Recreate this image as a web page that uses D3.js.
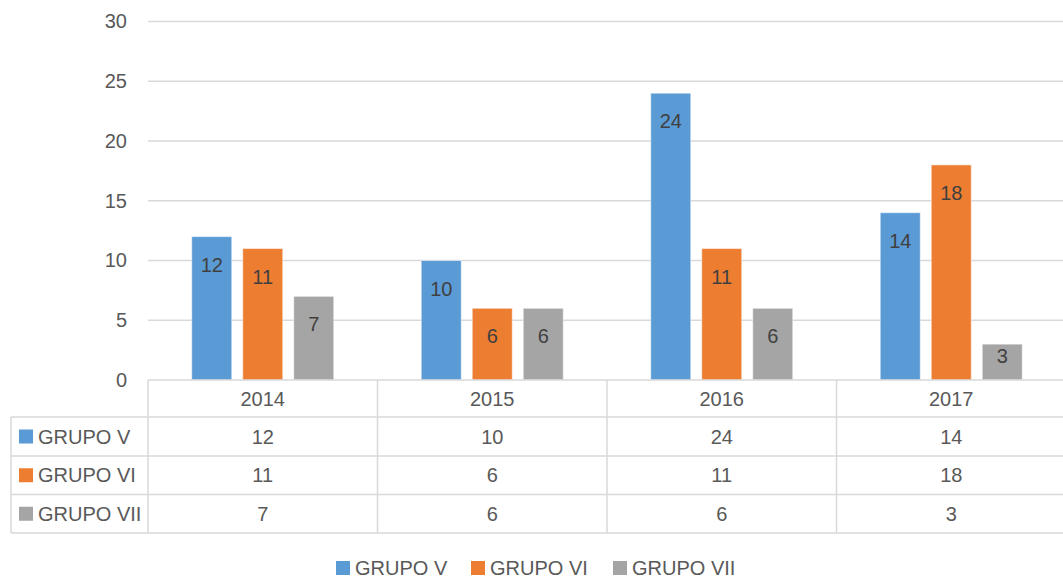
<!DOCTYPE html>
<html>
<head>
<meta charset="utf-8">
<script src="https://cdn.jsdelivr.net/npm/d3@7"></script>
<style>
  body { margin: 0; background: #fff; }
  text { font-family: "Liberation Sans", Arial, sans-serif; }
</style>
</head>
<body>
<script>
var years = ["2014", "2015", "2016", "2017"];
var series = ["GRUPO V", "GRUPO VI", "GRUPO VII"];
var grupoV = [12, 10, 24, 14];
var grupoVI = [11, 6, 11, 18];
var grupoVII = [7, 6, 6, 3];
var yTicks = [0, 5, 10, 15, 20, 25, 30];
var colors = ["#5B9BD5", "#ED7D31", "#A5A5A5"];

var values = [grupoV, grupoVI, grupoVII];

var w = 1063, h = 578, fs = 20;
var plotLeft = 148, plotRight = plotLeft + 4 * 229.5, plotTop = 21.5, plotBottom = 380;
var tableLeft = 11;
var rowLines = [417, 456, 494.5, 533];

var svg = d3.select("body").append("svg").attr("width", w).attr("height", h);

var x = d3.scaleBand().domain(years).range([plotLeft, plotRight]);
var step = 51;
var po = (x.bandwidth() / step - 3 + (11 / step)) / 2;
var xs = d3.scaleBand().domain(series).range([0, x.bandwidth()])
  .paddingInner(11 / step).paddingOuter(po);
var y = d3.scaleLinear().domain([0, 30]).range([plotBottom, plotTop]);

// gridlines
svg.append("g").selectAll("line").data(yTicks.slice(1)).enter().append("line")
  .attr("x1", plotLeft).attr("x2", w)
  .attr("y1", function(d) { return y(d); }).attr("y2", function(d) { return y(d); })
  .attr("stroke", "#d9d9d9").attr("stroke-width", 1.5);

// y axis labels
var yAxis = d3.axisLeft(y).tickValues(yTicks).tickSize(0).tickPadding(0);
var ya = svg.append("g").attr("transform", "translate(127,0)").call(yAxis);
ya.select(".domain").remove();
ya.selectAll("text").attr("font-size", fs).attr("fill", "#595959")
  .attr("font-family", "Liberation Sans, Arial, sans-serif");

// bars
var groups = svg.append("g").selectAll("g").data(series).enter().append("g");
groups.each(function(s, si) {
  var g = d3.select(this);
  g.selectAll("rect").data(values[si]).enter().append("rect")
    .attr("x", function(d, i) { return x(years[i]) + xs(s); })
    .attr("y", function(d) { return y(d); })
    .attr("width", xs.bandwidth())
    .attr("height", function(d) { return y(0) - y(d); })
    .attr("fill", colors[si])
    .attr("stroke", "#fff").attr("stroke-opacity", 0.5).attr("stroke-width", 1);
  g.selectAll("text").data(values[si]).enter().append("text")
    .attr("x", function(d, i) { return x(years[i]) + xs(s) + xs.bandwidth() / 2; })
    .attr("y", function(d) {
      var bh = y(0) - y(d);
      return y(d) + Math.min(28, bh / 2 - 6);
    })
    .attr("dy", "0.35em")
    .attr("text-anchor", "middle").attr("font-size", fs).attr("fill", "#404040")
    .text(function(d) { return d; });
});

// data table
var tg = svg.append("g").attr("stroke", "#d9d9d9").attr("stroke-width", 1.5);
tg.append("line").attr("x1", plotLeft).attr("x2", w).attr("y1", plotBottom).attr("y2", plotBottom);
rowLines.forEach(function(ry) {
  tg.append("line").attr("x1", tableLeft).attr("x2", w).attr("y1", ry).attr("y2", ry);
});
tg.append("line").attr("x1", tableLeft).attr("x2", tableLeft).attr("y1", rowLines[0]).attr("y2", rowLines[3]);
years.forEach(function(yr) {
  var xx = x(yr);
  tg.append("line").attr("x1", xx).attr("x2", xx).attr("y1", plotBottom).attr("y2", rowLines[3]);
});
tg.append("line").attr("x1", plotRight).attr("x2", plotRight).attr("y1", plotBottom).attr("y2", rowLines[3]);

// header years
svg.append("g").selectAll("text").data(years).enter().append("text")
  .attr("x", function(d) { return x(d) + x.bandwidth() / 2; })
  .attr("y", (plotBottom + rowLines[0]) / 2).attr("dy", "0.35em")
  .attr("text-anchor", "middle").attr("font-size", fs).attr("fill", "#595959")
  .text(function(d) { return d; });

// rows
series.forEach(function(s, si) {
  var cy = (rowLines[si] + rowLines[si + 1]) / 2;
  svg.append("rect").attr("x", 19).attr("y", cy - 7).attr("width", 14).attr("height", 14)
    .attr("fill", colors[si]);
  svg.append("text").attr("x", 38).attr("y", cy).attr("dy", "0.35em")
    .attr("font-size", fs).attr("fill", "#595959").text(s);
  svg.append("g").selectAll("text").data(values[si]).enter().append("text")
    .attr("x", function(d, i) { return x(years[i]) + x.bandwidth() / 2; })
    .attr("y", cy).attr("dy", "0.35em")
    .attr("text-anchor", "middle").attr("font-size", fs).attr("fill", "#595959")
    .text(function(d) { return d; });
});

// legend
var legendX = [336, 471, 613];
var lg = svg.append("g").selectAll("g").data(series).enter().append("g")
  .attr("transform", function(d, i) { return "translate(" + legendX[i] + ",568)"; });
lg.append("rect").attr("x", 0).attr("y", -7).attr("width", 14).attr("height", 14)
  .attr("fill", function(d, i) { return colors[i]; });
lg.append("text").attr("x", 19).attr("dy", "0.35em").attr("font-size", fs)
  .attr("fill", "#595959").text(function(d) { return d; });
</script>
</body>
</html>
